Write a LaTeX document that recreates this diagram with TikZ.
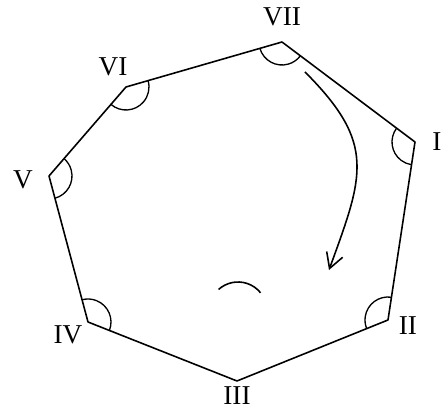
\documentclass[tikz,border=0pt]{standalone}
\usepackage{fontspec}
\setmainfont{Liberation Serif}
\usetikzlibrary{angles,arrows.meta}

\tikzset{
  cote/.style={line width=0.9pt, line join=round},
  marque/.style={draw, line width=0.75pt, angle radius=0.46cm},
  sommet/.style={inner sep=0pt, font=\fontsize{15.5}{18}\selectfont},
}

\begin{document}
\begin{tikzpicture}

            \useasboundingbox (0,0) rectangle (8.82,8.26);

            % Les sommets de l'heptagone
            \coordinate (P7) at (5.64,7.42);
            \coordinate (P1) at (8.30,5.42);
            \coordinate (P2) at (7.76,1.86);
            \coordinate (P3) at (4.74,0.64);
            \coordinate (P4) at (1.76,1.82);
            \coordinate (P5) at (0.98,4.74);
            \coordinate (P6) at (2.52,6.52);

            % Les noms des sommets
            \node[sommet] (n7) at (5.64,7.92) {VII};
            \node[sommet] (n1) at (8.74,5.42) {I};
            \node[sommet] (n2) at (8.16,1.74) {II};
            \node[sommet] (n3) at (4.74,0.34) {III};
            \node[sommet] (n4) at (1.36,1.56) {IV};
            \node[sommet] (n5) at (0.46,4.66) {V};
            \node[sommet] (n6) at (2.26,6.92) {VI};

            % Les cotes
            \draw[cote] (P7) -- (P1) -- (P2) -- (P3) -- (P4) -- (P5) -- (P6) -- cycle;

            % Les arcs des angles interieurs
            \pic[marque] {angle = P6--P7--P1};
            \pic[marque] {angle = P7--P1--P2};
            \pic[marque] {angle = P1--P2--P3};
            \pic[marque] {angle = P4--P5--P6};
            \pic[marque] {angle = P5--P6--P7};
            \pic[marque] {angle = P3--P4--P5};

            % Sens de parcours
            \coordinate (D) at (6.10,6.82);
            \coordinate (F) at (6.58,2.86);
            \draw[line width=0.9pt, -{Straight Barb[length=3mm,width=3.4mm]}]
                (D) to[out=-45, in=70, looseness=1.3] (F);

            % Petit arc au milieu
            \coordinate (O) at (4.76,2.04);
            \draw[line width=0.9pt] ([shift={(132:0.58)}]O) arc[start angle=132, end angle=39, radius=0.58];

        \end{tikzpicture}
\end{document}
